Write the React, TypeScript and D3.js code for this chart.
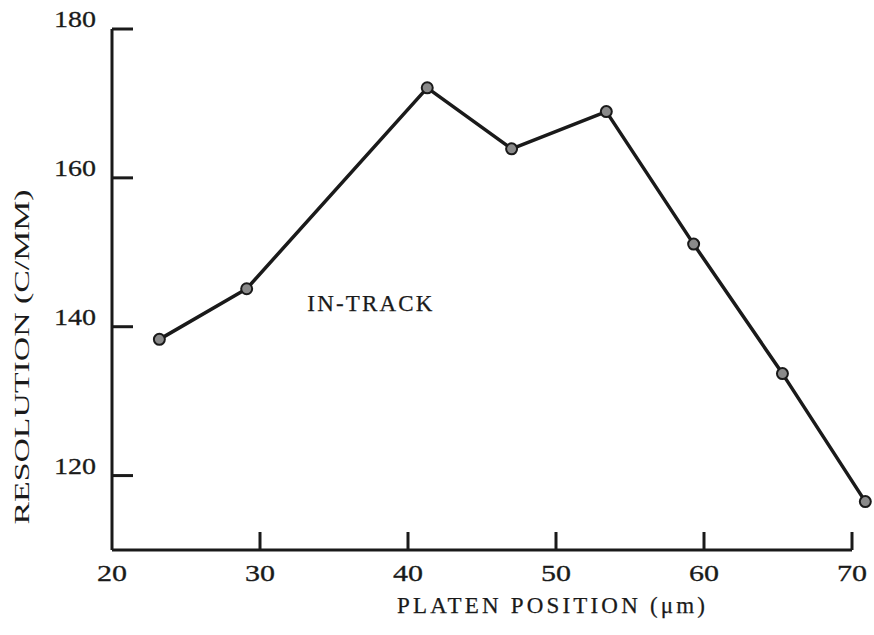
import React from "react";
import * as d3 from "d3";

// Platen position (µm) and measured in-track resolution (cycles/mm)
const platenPosition = [23.2, 29.1, 41.3, 47.0, 53.4, 59.3, 65.3, 70.9];
const resolution = [138.3, 145.1, 172.1, 163.9, 168.9, 151.1, 133.7, 116.5];

const xTicks = [20, 30, 40, 50, 60, 70];
const yTicks = [120, 140, 160, 180];

const seriesLabel = "IN-TRACK";
const seriesLabelAt = [33.2, 142.1];
const xTitle = "PLATEN POSITION (\u03bcm)";
const yTitle = "RESOLUTION (C/MM)";

const W = 874;
const H = 635;
const FONT = "'Liberation Serif', 'Times New Roman', serif";
const INK = "#1a1a1a";
const FS = 23;

export default function App() {
  const x = d3.scaleLinear().domain([20, 70]).range([112, 852]);
  const y = d3.scaleLinear().domain([110, 180]).range([550, 29]);

  const line = d3
    .line<number>()
    .x((_, i) => x(platenPosition[i]))
    .y((d) => y(d));

  const x0 = x(20);
  const y0 = y(110);

  // typewriter-like text: numbers get widened glyphs, words get a fixed pitch
  const digits = {
    fontSize: FS,
    lengthAdjust: "spacingAndGlyphs" as const,
    stroke: INK,
    strokeWidth: 0.3,
  };
  const words = {
    fontSize: FS,
    lengthAdjust: "spacing" as const,
    stroke: INK,
    strokeWidth: 0.25,
  };

  return (
    <svg
      width={W}
      height={H}
      viewBox={`0 0 ${W} ${H}`}
      style={{ position: "absolute", left: 0, top: 0, background: "#fff" }}
    >
      <g fontFamily={FONT} fill={INK}>
        {/* axes */}
        <line x1={x0} y1={y(180)} x2={x0} y2={y0} stroke={INK} strokeWidth={3} />
        <line x1={x0} y1={y0} x2={x(70)} y2={y0} stroke={INK} strokeWidth={3} />

        {yTicks.map((t) => (
          <g key={`y${t}`}>
            <line x1={x0} x2={x0 + 21} y1={y(t)} y2={y(t)} stroke={INK} strokeWidth={3} />
            <text x={x0 - 16} y={y(t) - 2} textAnchor="end" textLength={42} {...digits}>
              {t}
            </text>
          </g>
        ))}

        {xTicks.map((t) => (
          <g key={`x${t}`}>
            {t !== 20 && (
              <line x1={x(t)} x2={x(t)} y1={y0} y2={y0 - 18} stroke={INK} strokeWidth={3} />
            )}
            <text x={x(t)} y={y0 + 31} textAnchor="middle" textLength={30} {...digits}>
              {t}
            </text>
          </g>
        ))}

        <text x={551} y={613} textAnchor="middle" textLength={308} {...words}>
          {xTitle}
        </text>

        <text
          transform={`translate(29, 357) rotate(-90)`}
          textAnchor="middle"
          textLength={335}
          fontSize={22}
          lengthAdjust="spacingAndGlyphs"
        >
          {yTitle}
        </text>

        {/* data */}
        <path
          d={line(resolution) ?? ""}
          fill="none"
          stroke={INK}
          strokeWidth={3.5}
          strokeLinejoin="round"
        />
        {resolution.map((v, i) => (
          <circle
            key={i}
            cx={x(platenPosition[i])}
            cy={y(v)}
            r={5.5}
            fill="#8a8a8a"
            stroke={INK}
            strokeWidth={2}
          />
        ))}

        <text
          x={x(seriesLabelAt[0])}
          y={y(seriesLabelAt[1])}
          textLength={125}
          {...words}
        >
          {seriesLabel}
        </text>
      </g>
    </svg>
  );
}
